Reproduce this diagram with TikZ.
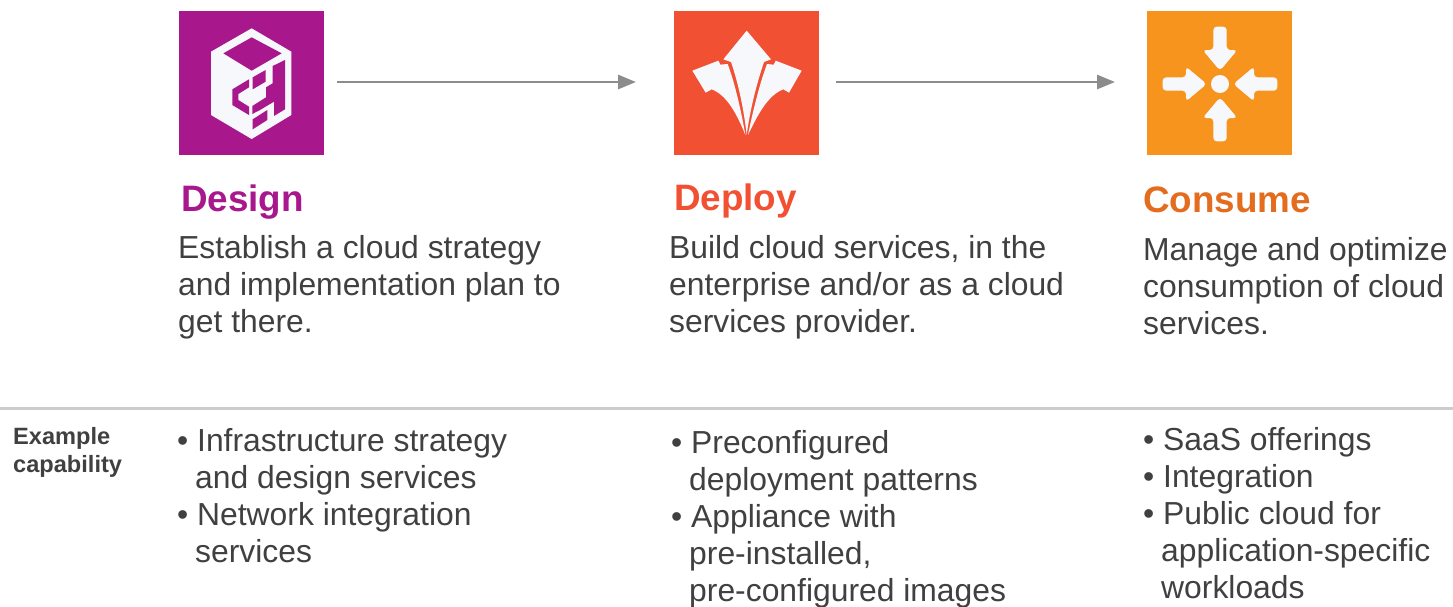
\documentclass[tikz,border=0pt]{standalone}
\usepackage{fontspec}
\setmainfont{Liberation Sans}
\usetikzlibrary{arrows.meta}
\definecolor{cpurple}{HTML}{A9178C}
\definecolor{cred}{HTML}{F15033}
\definecolor{corange}{HTML}{F7941E}
\definecolor{chead}{HTML}{E36C1E}
\definecolor{ctext}{HTML}{404040}
\definecolor{carrow}{HTML}{8C8C8C}
\definecolor{crule}{HTML}{CCCCCC}
\definecolor{cwhite}{HTML}{F6F8FB}
\tikzset{
  iconbox/.style={minimum width=145pt,minimum height=144pt,inner sep=0pt,outer sep=0pt,anchor=north west},
  flowarrow/.style={draw=carrow,line width=2.8pt,-{Triangle[length=18pt,width=14pt]}},
  headtext/.style={font=\fontsize{36.8}{40}\selectfont\bfseries,anchor=base west,inner sep=0pt},
  bodytext/.style={font=\fontsize{31.85}{37}\selectfont,text=ctext,anchor=north west,inner sep=0pt,align=left},
  sidetext/.style={font=\fontsize{23.6}{28}\selectfont\bfseries,text=ctext,anchor=north west,inner sep=0pt,align=left},
  rulerline/.style={draw=crule,line width=3pt},
}
\newcommand{\hang}{\hspace*{18pt}}
\begin{document}
\begin{tikzpicture}[x=1pt,y=-1pt]
\useasboundingbox (0,0) rectangle (1453,606);
% icon boxes
\node[iconbox,fill=cpurple] (design) at (179,11) {};
\node[iconbox,fill=cred] (deploy) at (674,11) {};
\node[iconbox,fill=corange] (consume) at (1147,11) {};
% design icon
\begin{scope}[shift={(170,0)},scale=1/3]
\fill[cwhite] (245,85)--(364,155)--(364,345)--(245,417)--(123,345)--(123,155)--cycle;
\fill[cpurple] (245,112)--(335,160)--(245,212)--(160,160)--cycle;
\fill[cpurple] (345,180)--(345,328)--(312,348)--(312,305)--(270,330)--(247,342)--(247,318)--(288,292)--(288,262)--(308,250)--(308,198)--cycle;
\fill[cpurple] (287,210)--(287,245)--(248,268)--(248,232)--cycle;
\fill[cpurple] (237,238)--(237,262)--(205,282)--(205,300)--(237,320)--(237,345)--(187,315)--(187,268)--cycle;
\fill[cpurple] (292,330)--(292,360)--(248,388)--(248,358)--cycle;
\end{scope}
% deploy icon
\begin{scope}[shift={(665,0)},scale=1/3]
\fill[cwhite] (245,92)--(318,178)--(297,186)
  .. controls (275,250) and (255,330) .. (245,405)
  .. controls (237,330) and (220,250) .. (198,186)--(175,178)--cycle;
\fill[cwhite] (160,182)--(166,194)--(188,192)
  .. controls (210,250) and (230,340) .. (241,405)
  .. controls (215,340) and (185,285) .. (140,268)--(122,278)--(82,212)--cycle;
\fill[cwhite] (332,182)--(326,194)--(306,192)
  .. controls (284,250) and (262,340) .. (249,405)
  .. controls (280,340) and (310,285) .. (355,268)--(372,278)--(410,212)--cycle;
\end{scope}
% consume icon
\begin{scope}[shift={(1135,0)},scale=1/3]
\fill[cwhite] (255,252) circle (27);
\foreach \a in {0,90,180,270}{
  \begin{scope}[shift={(255,252)},rotate=\a]
  \fill[cwhite,rounded corners=3.5pt] (-20,-172)--(20,-172)--(20,-102)--(52,-102)--(0,-40)--(-52,-102)--(-20,-102)--cycle;
  \end{scope}
}
\end{scope}
% arrows
\draw[flowarrow,shorten <=13pt,shorten >=38pt] (design.east|-0,82) -- (deploy.west|-0,82);
\draw[flowarrow,shorten <=17pt,shorten >=32pt] (deploy.east|-0,82) -- (consume.west|-0,82);
% headings
\node[headtext,text=cpurple] (h1) at (181,211) {Design};
\node[headtext,text=cred] (h2) at (674,210) {Deploy};
\node[headtext,text=chead] (h3) at (1143,212) {Consume};
% body
\node[bodytext] (b1) at (178,235) {Establish a cloud strategy\\and implementation plan to\\get there.};
\node[bodytext] (b2) at (669,235) {Build cloud services, in the\\enterprise and/or as a cloud\\services provider.};
\node[bodytext] (b3) at (1143,237) {Manage and optimize\\consumption of cloud\\services.};
% rule
\coordinate (r1) at (0,408);
\coordinate (r2) at (1453,408);
\draw[rulerline] (r1) -- (r2);
% side
\node[sidetext] (s) at (13,427) {Example\\capability};
% lists
\node[bodytext] (l1) at (177,428) {• Infrastructure strategy\\\hang and design services\\• Network integration\\\hang services};
\node[bodytext] (l2) at (671,430) {• Preconfigured\\\hang deployment patterns\\• Appliance with\\\hang pre-installed,\\\hang pre-configured images};
\node[bodytext] (l3) at (1143,427) {• SaaS offerings\\• Integration\\• Public cloud for\\\hang application-specific\\\hang workloads};
\end{tikzpicture}
\end{document}
